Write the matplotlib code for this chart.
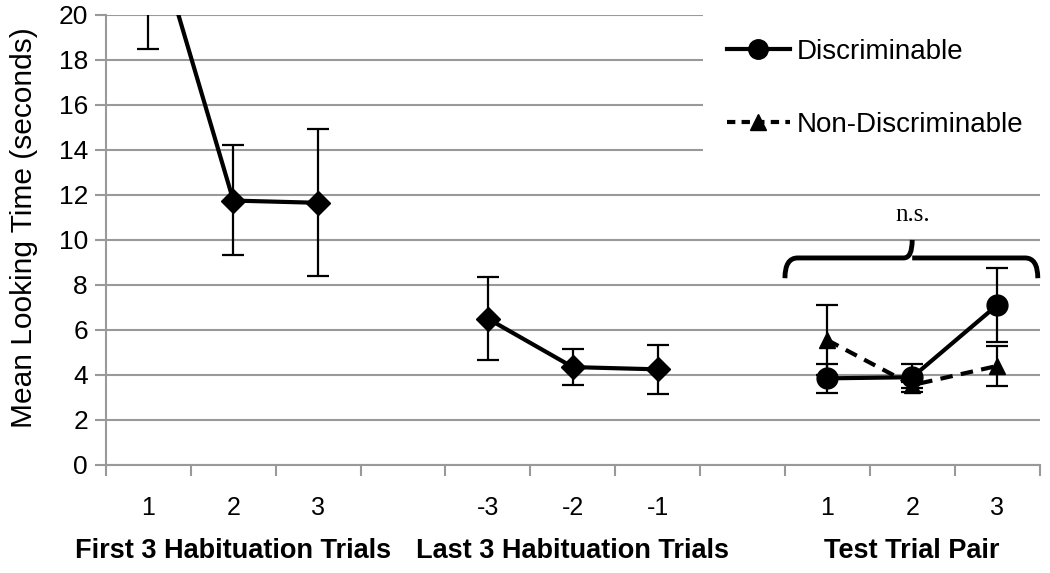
import matplotlib
matplotlib.use("Agg")
import matplotlib.pyplot as plt
from matplotlib.path import Path
from matplotlib.patches import PathPatch
from matplotlib.lines import Line2D

plt.rcParams['font.family'] = ['Liberation Sans', 'DejaVu Sans']

# --- Data ---
categories = ['1', '2', '3', '', '-3', '-2', '-1', '', '1', '2', '3']
group_labels = ['First 3 Habituation Trials', 'Last 3 Habituation Trials', 'Test Trial Pair']

first_mean = [24.5, 11.75, 11.65]
first_lo = [6.0, 2.4, 3.25]
first_hi = [6.0, 2.45, 3.3]

last_mean = [6.5, 4.35, 4.25]
last_lo = [1.85, 0.8, 1.1]
last_hi = [1.85, 0.8, 1.1]

disc_mean = [3.85, 3.9, 7.1]
disc_lo = [0.65, 0.65, 1.65]
disc_hi = [0.65, 0.6, 1.65]

nondisc_mean = [5.55, 3.55, 4.4]
nondisc_lo = [1.55, 0.15, 0.9]
nondisc_hi = [1.55, 0.15, 0.9]

first_idx = [0, 1, 2]
last_idx = [4, 5, 6]
test_idx = [8, 9, 10]

# --- Plot ---
fig = plt.figure(figsize=(10.5, 5.73), dpi=100)
ax = fig.add_axes([0.101, 0.1885, 0.889, 0.7855])

x_pos = [i + 0.5 for i in range(len(categories))]
fx = [x_pos[i] for i in first_idx]
lx = [x_pos[i] for i in last_idx]
tx = [x_pos[i] for i in test_idx]

err_kw = dict(ecolor='black', elinewidth=1.6, capsize=8, capthick=1.6, zorder=3)

ax.errorbar(fx, first_mean, yerr=[first_lo, first_hi], color='black', lw=3,
            marker='D', ms=12, **err_kw)
ax.errorbar(lx, last_mean, yerr=[last_lo, last_hi], color='black', lw=3,
            marker='D', ms=12, **err_kw)
ax.errorbar(tx, nondisc_mean, yerr=[nondisc_lo, nondisc_hi], color='black', lw=3,
            ls=(0, (3, 2)), marker='^', ms=11, **err_kw)
ax.errorbar(tx, disc_mean, yerr=[disc_lo, disc_hi], color='black', lw=3,
            marker='o', ms=15, **err_kw)

ax.set_xlim(0, len(categories))
ax.set_ylim(0, 20)
ax.set_yticks(range(0, 21, 2))
ax.tick_params(axis='y', labelsize=19, length=8, color='#999999', width=1.5, pad=5)
ax.grid(axis='y', color='#999999', lw=1.5)
ax.set_axisbelow(True)

ax.set_xticks(range(0, len(categories) + 1))
ax.set_xticklabels([])
ax.set_xticks(x_pos, minor=True)
ax.set_xticklabels(categories, minor=True, fontsize=18)
ax.tick_params(axis='x', which='major', length=8, color='#999999', width=1.5)
ax.tick_params(axis='x', which='minor', length=0, pad=22)

for s in ['top', 'right']:
    ax.spines[s].set_visible(False)
ax.spines['left'].set_color('#999999')
ax.spines['left'].set_linewidth(1.5)
ax.spines['bottom'].set_color('#999999')
ax.spines['bottom'].set_linewidth(1.5)

ax.set_ylabel('Mean Looking Time (seconds)', fontsize=21.5)
ax.yaxis.set_label_coords(-0.073, 0.527)

for k, lab in enumerate(group_labels):
    ax.text(1.5 + 4 * k, -0.19, lab, transform=ax.get_xaxis_transform(),
            ha='center', va='center', fontsize=19.5, fontweight='bold')

# brace over test trials
bl, br, bm = 8.0, 10.98, 9.5
yb, yt, ye = 9.2, 10.0, 8.3
verts = [(bl, ye), (bl, yb), (bl + 0.15, yb), (bm - 0.1, yb), (bm, yb), (bm, yt),
         (bm, yb), (bm + 0.1, yb), (br - 0.15, yb), (br, yb), (br, ye)]
codes = [Path.MOVETO, Path.CURVE3, Path.CURVE3, Path.LINETO, Path.CURVE3, Path.CURVE3,
         Path.MOVETO, Path.CURVE3, Path.LINETO, Path.CURVE3, Path.CURVE3]
ax.add_patch(PathPatch(Path(verts, codes), fill=False, lw=3.5, color='black', clip_on=False))
ax.text(bm, 11.1, 'n.s.', ha='center', va='center', fontsize=18, family='Liberation Serif')

handles = [Line2D([], [], color='black', lw=3, marker='o', ms=14),
           Line2D([], [], color='black', lw=3, ls=(0, (2, 1.5)), marker='^', ms=11)]
leg = ax.legend(handles, ['Discriminable', 'Non-Discriminable'], loc='upper left',
                bbox_to_anchor=(0.64, 1.0), fontsize=20, frameon=True, framealpha=1,
                edgecolor='none', facecolor='white', fancybox=False,
                handlelength=2.25, handletextpad=0.25, labelspacing=1.7, borderpad=0.85,
                borderaxespad=0)

fig.savefig('out.png', dpi=100)
